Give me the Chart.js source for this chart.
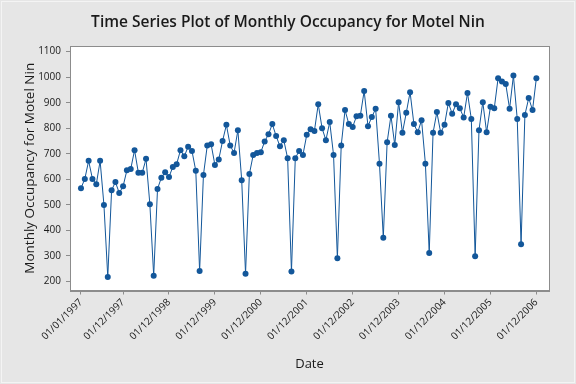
<!DOCTYPE html>
<html>
<head>
<meta charset="utf-8">
<script src="https://cdn.jsdelivr.net/npm/chart.js@4"></script>
<style>
  html, body { margin: 0; padding: 0; background: #e6e6e6; }
  #wrap { width: 576px; height: 384px; position: relative; }
</style>
</head>
<body>
<div id="wrap"><canvas id="c" width="576" height="384"></canvas></div>
<script>
const occupancy = [
  565, 601, 672, 601, 580, 672, 499, 217, 557, 589, 546, 572,
  635, 640, 714, 625, 625, 680, 502, 222, 562, 606, 627, 609,
  648, 659, 714, 690, 727, 711, 633, 240, 617, 732, 737, 656,
  677, 750, 813, 732, 703, 792, 596, 230, 620, 695, 703, 706,
  748, 776, 816, 769, 729, 753, 682, 238, 682, 711, 695, 774,
  796, 789, 894, 800, 753, 824, 695, 290, 732, 871, 816, 805,
  847, 849, 946, 808, 844, 876, 661, 371, 745, 849, 734, 902,
  782, 860, 941, 816, 784, 831, 661, 311, 782, 863, 782, 813,
  899, 857, 894, 878, 842, 938, 836, 298, 792, 902, 784, 884,
  878, 996, 983, 973, 876, 1006, 836, 345, 852, 918, 871, 996
];
const tickPositions = [0, 11, 23, 35, 47, 59, 71, 83, 95, 107, 119];
const tickLabels = ['01/01/1997', '01/12/1997', '01/12/1998', '01/12/1999', '01/12/2000',
  '01/12/2001', '01/12/2002', '01/12/2003', '01/12/2004', '01/12/2005', '01/12/2006'];
const yTicks = [200, 300, 400, 500, 600, 700, 800, 900, 1000, 1100];
const chartTitle = 'Time Series Plot of Monthly Occupancy for Motel Nin';

const points = occupancy.map((v, i) => ({ x: i, y: v }));
const blue = '#13579a';
const axisGrey = '#8c8c8c';
const textColor = '#1a1a1a';

const plotFrame = {
  id: 'plotFrame',
  beforeDraw(chart) {
    const { ctx, chartArea: a } = chart;
    ctx.save();
    ctx.fillStyle = '#e6e6e6';
    ctx.fillRect(0, 0, chart.width, chart.height);
    ctx.strokeStyle = '#f4f4f4';
    ctx.lineWidth = 1;
    ctx.strokeRect(1.5, 1.5, chart.width - 3, chart.height - 3);
    ctx.fillStyle = '#ffffff';
    ctx.fillRect(a.left, a.top, a.right - a.left, a.bottom - a.top);
    ctx.fillStyle = textColor;
    ctx.font = '600 15.5px "Open Sans"';
    ctx.textAlign = 'center';
    ctx.textBaseline = 'middle';
    ctx.fillText(chartTitle, chart.width / 2, 23);
    ctx.restore();
  },
  afterDraw(chart) {
    const { ctx, chartArea: a } = chart;
    ctx.save();
    ctx.strokeStyle = axisGrey;
    ctx.lineWidth = 1;
    ctx.strokeRect(Math.round(a.left) + 0.5, Math.round(a.top) + 0.5,
      Math.round(a.right - a.left), Math.round(a.bottom - a.top));
    ctx.restore();
  }
};

new Chart(document.getElementById('c'), {
  type: 'line',
  data: {
    datasets: [{
      data: points,
      borderColor: blue,
      backgroundColor: blue,
      borderWidth: 1,
      pointRadius: 3,
      pointHoverRadius: 3,
      pointBorderWidth: 0,
      tension: 0
    }]
  },
  options: {
    responsive: false,
    animation: false,
    events: [],
    layout: { padding: { left: 0, right: 27, top: 46, bottom: 0 } },
    plugins: {
      legend: { display: false },
      tooltip: { enabled: false },
      title: { display: false }
    },
    scales: {
      x: {
        type: 'linear',
        min: -2.87,
        max: 122.3,
        afterBuildTicks(scale) {
          scale.ticks = tickPositions.map(v => ({ value: v }));
        },
        afterFit(scale) { scale.height = 384 - 290.5; },
        ticks: {
          autoSkip: false,
          minRotation: 45,
          maxRotation: 45,
          color: textColor,
          padding: 2,
          font: { family: 'Open Sans', size: 10 },
          callback(value) {
            const k = tickPositions.indexOf(value);
            return k >= 0 ? tickLabels[k] : '';
          }
        },
        grid: { drawOnChartArea: false, drawTicks: true, tickLength: 4, color: axisGrey },
        border: { display: true, color: axisGrey },
        title: {
          display: true,
          text: 'Date',
          color: textColor,
          font: { family: 'Open Sans', size: 13 },
          padding: { top: 4, bottom: 12 }
        }
      },
      y: {
        min: 164,
        max: 1122,
        afterBuildTicks(scale) {
          scale.ticks = yTicks.map(v => ({ value: v }));
        },
        afterFit(scale) { scale.width = 70; },
        ticks: {
          color: textColor,
          padding: 5,
          font: { family: 'Open Sans', size: 10 },
          callback(value) { return String(value); }
        },
        grid: { drawOnChartArea: false, drawTicks: true, tickLength: 4, color: axisGrey },
        border: { display: true, color: axisGrey },
        title: {
          display: true,
          text: 'Monthly Occupancy for Motel Nin',
          color: textColor,
          font: { family: 'Open Sans', size: 13.5 },
          padding: { top: 22, bottom: 4 }
        }
      }
    }
  },
  plugins: [plotFrame]
});
</script>
</body>
</html>
